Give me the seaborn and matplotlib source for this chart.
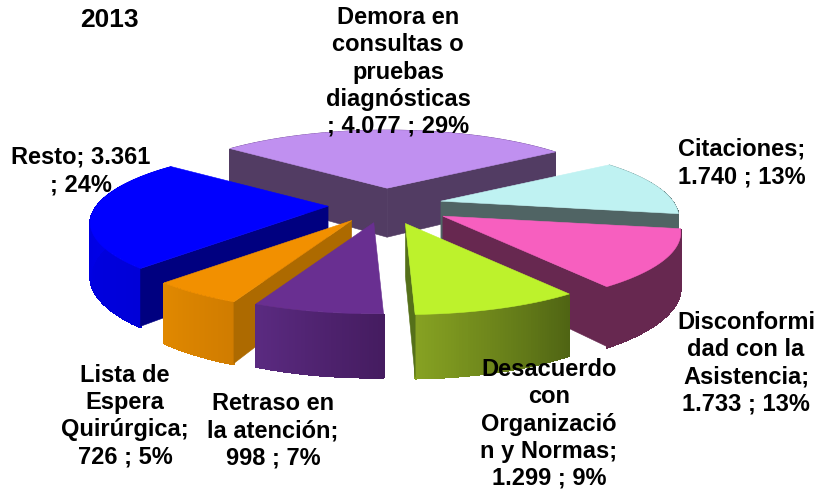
import numpy as np
import matplotlib
matplotlib.use("Agg")
import matplotlib.pyplot as plt
import seaborn as sns

# Data
categories = ["Demora en\nconsultas o\npruebas\ndiagnósticas\n; 4.077 ; 29%",
              "Citaciones;\n1.740 ; 13%",
              "Disconformi\ndad con la\nAsistencia;\n1.733 ; 13%",
              "Desacuerdo\ncon\nOrganizació\nn y Normas;\n1.299 ; 9%",
              "Retraso en\nla atención;\n998 ; 7%",
              "Lista de\nEspera\nQuirúrgica;\n726 ; 5%",
              "Resto; 3.361\n; 24%"]
values = [4077, 1740, 1733, 1299, 998, 726, 3361]

# Look of each slice
explode = [0.25, 0.25, 0.285, 0.26, 0.24, 0.25, 0.245]
top_colors = ["#c090f0", "#bff2f2", "#f75fbf", "#bdf22c", "#692f91", "#f29000", "#0000ff"]
cut_colors = ["#523c63", "#506464", "#672850", "#55701a", "#451c60", "#ad6a00", "#000080"]
rim_colors = [("#523c63", "#523c63"), ("#506464", "#506464"), ("#672850", "#672850"),
              ("#4f6413", "#86a122"), ("#451c60", "#5a2a80"), ("#d07c00", "#e08800"),
              ("#0000d8", "#0000f0")]
label_x = [398, 742, 746, 549, 273, 125, 81]
label_y = [72, 163, 363, 424, 431, 416, 171]
draw_order = [0, 1, 6, 2, 5, 4, 3]

# Perspective of the disc
START_ANGLE = -50.5
CENTER = (385.0, 205.0)
RADIUS_X = 232.0
RADIUS_Y = 71.0
PERSPECTIVE = 0.22


def project(u, v):
    w = 1 + PERSPECTIVE * v
    return RADIUS_X * u / w, -RADIUS_Y * v / w


def depth(y):
    return 49 + 0.11 * (y - 188)


def draw_wall(ax, p, q, color, smooth=True):
    xs = [p[0], q[0], q[0], p[0]]
    ys = [p[1], q[1], q[1] + depth(q[1]), p[1] + depth(p[1])]
    ax.fill(xs, ys, color=color, lw=0.4 if smooth else 0.8, antialiased=smooth)


def draw_slice(ax, a0, a1, exp, top, cut, rim):
    mid = np.radians((a0 + a1) / 2)
    dx, dy = project(exp * np.sin(mid), exp * np.cos(mid))
    apex = (CENTER[0] + dx, CENTER[1] + dy)

    theta = np.radians(np.linspace(a0, a1, 61))
    px, py = project(np.sin(theta), np.cos(theta))
    xs = apex[0] + px
    ys = apex[1] + py

    # outer wall: smooth outline first, then the shading along the arc
    low = ys + depth(ys)
    ax.fill(np.r_[xs, xs[::-1]], np.r_[ys, low[::-1]], color=rim[0], lw=0.4)
    shades = sns.blend_palette(rim, len(xs) - 1)
    for i, shade in enumerate(shades):
        draw_wall(ax, (xs[i], ys[i] + 1), (xs[i + 1], ys[i + 1] + 1), shade, smooth=False)

    # cut walls only where the top sits above the edge
    mx, my = xs[30], ys[30]
    for ex, ey in [(xs[0], ys[0]), (xs[-1], ys[-1])]:
        line_y = apex[1] + (ey - apex[1]) * (mx - apex[0]) / (ex - apex[0])
        if my < line_y:
            draw_wall(ax, apex, (ex, ey), cut)

    ax.fill(np.r_[apex[0], xs], np.r_[apex[1], ys], color=top, lw=0.4)


def main():
    sns.set_theme(style="white")
    plt.rcParams["font.family"] = ["Liberation Sans", "DejaVu Sans"]

    fig, ax = plt.subplots(figsize=(8.17, 4.93), dpi=100)
    fig.subplots_adjust(left=0, right=1, top=1, bottom=0)
    ax.set_xlim(0, 817)
    ax.set_ylim(493, 0)
    ax.axis("off")

    sweep = 360 * np.array(values) / sum(values)
    edges = START_ANGLE + np.r_[0, np.cumsum(sweep)]

    for i in draw_order:
        draw_slice(ax, edges[i], edges[i + 1], explode[i], top_colors[i],
                   cut_colors[i], rim_colors[i])

    for name, x, y in zip(categories, label_x, label_y):
        ax.text(x, y, name, ha="center", va="center", fontsize=17, fontweight="bold",
                color="black", linespacing=1.23)
    ax.text(109, 20, "2013", ha="center", va="center", fontsize=19, fontweight="bold",
            color="black")

    fig.savefig("out.png", dpi=100)


if __name__ == "__main__":
    main()
